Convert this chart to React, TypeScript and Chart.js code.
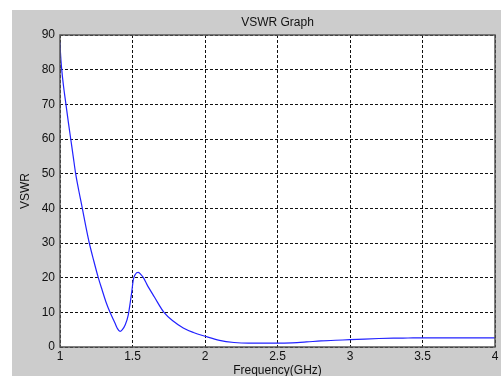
import React, { useEffect, useRef } from "react";
import { Chart, registerables } from "chart.js";

Chart.register(...registerables);

const freqGHz = [
  1.0, 1.003, 1.012, 1.025, 1.041, 1.057, 1.074, 1.091, 1.108, 1.13, 1.154,
  1.177, 1.202, 1.232, 1.264, 1.29, 1.317, 1.345, 1.379, 1.395, 1.414, 1.43,
  1.45, 1.471, 1.485, 1.494, 1.506, 1.52, 1.54, 1.56, 1.575, 1.6, 1.65, 1.717,
  1.78, 1.85, 1.92, 2.0, 2.1, 2.2, 2.3, 2.4, 2.5, 2.6, 2.7, 2.8, 2.9, 3.0, 3.1,
  3.2, 3.3, 3.4, 3.5, 3.6, 3.7, 3.8, 3.9, 4.0,
];
const vswr = [
  88, 85, 80, 75, 70, 65, 60, 55, 50, 45, 40, 35, 30, 25, 20, 16.5, 13, 10, 6.9,
  5.4, 4.5, 5.0, 6.4, 9.3, 13, 15.6, 19.5, 21, 21.5, 20.8, 20, 18, 14.5, 10, 7.5,
  5.5, 4.2, 3.1, 1.9, 1.3, 1.1, 1.1, 1.1, 1.2, 1.45, 1.75, 1.95, 2.1, 2.3, 2.45,
  2.55, 2.6, 2.65, 2.65, 2.65, 2.65, 2.65, 2.65,
];
const xTicks = [1, 1.5, 2, 2.5, 3, 3.5, 4];
const yTicks = [0, 10, 20, 30, 40, 50, 60, 70, 80, 90];
const titleText = "VSWR Graph";
const xTitle = "Frequency(GHz)";
const yTitle = "VSWR";

const FONT = "Arial, 'Liberation Sans', sans-serif";

const framePlugin = {
  id: "matlabFrame",
  beforeDraw(chart: any) {
    const { ctx, width, height, chartArea } = chart;
    ctx.save();
    ctx.fillStyle = "#ffffff";
    ctx.fillRect(0, 0, width, height);
    ctx.fillStyle = "#cccccc";
    ctx.fillRect(12, 10, width - 12, height - 10);
    ctx.fillStyle = "#ffffff";
    ctx.fillRect(
      chartArea.left,
      chartArea.top,
      chartArea.right - chartArea.left,
      chartArea.bottom - chartArea.top
    );
    ctx.restore();
  },
  afterDraw(chart: any) {
    const { ctx, chartArea } = chart;
    ctx.save();
    ctx.strokeStyle = "#555555";
    ctx.lineWidth = 1.5;
    ctx.strokeRect(
      chartArea.left,
      chartArea.top,
      chartArea.right - chartArea.left,
      chartArea.bottom - chartArea.top
    );
    ctx.fillStyle = "#111111";
    ctx.font = "12px " + FONT;
    ctx.textAlign = "center";
    ctx.textBaseline = "middle";
    const cx = (chartArea.left + chartArea.right) / 2;
    ctx.fillText(titleText, cx, 23);
    ctx.fillText(xTitle, cx, 371);
    ctx.translate(26, (chartArea.top + chartArea.bottom) / 2);
    ctx.rotate(-Math.PI / 2);
    ctx.fillText(yTitle, 0, 0);
    ctx.restore();
  },
};

export default function App() {
  const ref = useRef<HTMLCanvasElement>(null);
  useEffect(() => {
    document.body.style.margin = "0";
    const canvas = ref.current;
    if (!canvas) return;
    const chart = new Chart(canvas, {
      type: "line",
      data: {
        datasets: [
          {
            data: freqGHz.map((f, i) => ({ x: f, y: vswr[i] })),
            borderColor: "#2222ff",
            borderWidth: 1.2,
            pointRadius: 0,
            cubicInterpolationMode: "monotone",
            fill: false,
          },
        ],
      },
      options: {
        animation: false,
        responsive: false,
        maintainAspectRatio: false,
        layout: { padding: { left: 0, right: 6, top: 35, bottom: 0 } },
        plugins: {
          legend: { display: false },
          title: { display: false },
          tooltip: { enabled: false },
        },
        scales: {
          x: {
            type: "linear",
            min: 1,
            max: 4,
            afterBuildTicks: (axis: any) => {
              axis.ticks = xTicks.map((v) => ({ value: v }));
            },
            afterFit: (axis: any) => {
              axis.height = 29;
            },
            ticks: {
              color: "#111111",
              font: { size: 12, family: FONT },
              padding: 2,
              maxRotation: 0,
              autoSkip: false,
              callback: (v: any) => String(v),
            },
            grid: { color: "#111111", lineWidth: 1, drawTicks: false },
            border: { display: false, dash: [3, 2] },
          },
          y: {
            type: "linear",
            min: 0,
            max: 90,
            afterBuildTicks: (axis: any) => {
              axis.ticks = yTicks.map((v) => ({ value: v }));
            },
            afterFit: (axis: any) => {
              axis.width = 60;
            },
            ticks: {
              color: "#111111",
              font: { size: 12, family: FONT },
              padding: 5,
              autoSkip: false,
              callback: (v: any) => String(v),
            },
            grid: { color: "#111111", lineWidth: 1, drawTicks: false },
            border: { display: false, dash: [3, 2] },
          },
        },
      },
      plugins: [framePlugin],
    } as any);
    return () => chart.destroy();
  }, []);
  return (
    <div style={{ position: "absolute", left: 0, top: 0, width: 501, height: 376 }}>
      <canvas ref={ref} width={501} height={376} style={{ width: 501, height: 376 }} />
    </div>
  );
}
